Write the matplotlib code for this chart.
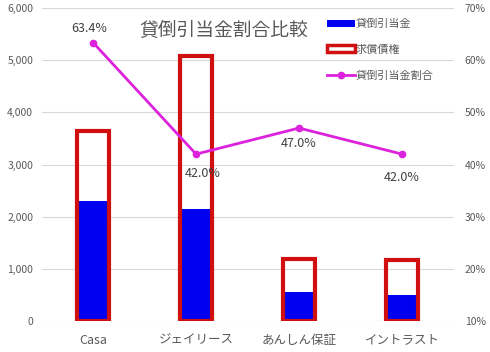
import numpy as np
import matplotlib.pyplot as plt
from matplotlib.patches import Patch
from matplotlib.lines import Line2D

plt.rcParams['font.family'] = ['Noto Sans CJK JP', 'DejaVu Sans']

categories = ['Casa', 'ジェイリース', 'あんしん保証', 'イントラスト']
allowance = [2300, 2150, 556, 500]       # 貸倒引当金
receivables = [3640, 5080, 1180, 1170]   # 求償債権
ratio = [63.4, 42.0, 47.0, 42.0]         # 貸倒引当金割合 (%)

label_offsets = [(-3, 10), (5, -14), (0, -11), (0, -17)]

gray = '#595959'
blue = '#0000F0'
red = '#D01010'
magenta = '#DD22DD'

fig = plt.figure(figsize=(4.9, 3.52), dpi=100)
ax = fig.add_axes([0.0847, 0.088, 0.841, 0.889])
x = np.arange(len(categories))
w = 0.31

ax.bar(x, allowance, width=w, color=blue, zorder=2)
ax.bar(x, receivables, width=w, facecolor='none', edgecolor=red,
       linewidth=3, zorder=3)

ax.set_xlim(-0.5, len(categories) - 0.5)
ax.set_ylim(0, 6000)
ax.set_yticks(range(0, 6001, 1000))
ax.set_yticklabels([f'{v:,}' for v in range(0, 6001, 1000)])
ax.set_xticks(x)
ax.set_xticklabels(categories)
ax.grid(axis='y', color='#D9D9D9', linewidth=0.8, zorder=0)
ax.set_axisbelow(True)
ax.tick_params(length=0, labelsize=7.5, colors=gray, pad=6)
ax.tick_params(axis='x', labelsize=9, pad=9)
for s in ax.spines.values():
    s.set_visible(False)

ax2 = ax.twinx()
ax2.plot(x, ratio, color=magenta, linewidth=2, marker='o', markersize=4.5,
         zorder=5)
ax2.set_ylim(10, 70)
ax2.set_yticks(range(10, 71, 10))
ax2.set_yticklabels([f'{v}%' for v in range(10, 71, 10)])
ax2.tick_params(length=0, labelsize=7.5, colors=gray, pad=8)
for s in ax2.spines.values():
    s.set_visible(False)

for xi, r, off in zip(x, ratio, label_offsets):
    ax2.annotate(f'{r:.1f}%', (xi, r), xytext=off, textcoords='offset points',
                 ha='center', va='center', fontsize=9, color='#404040')

ax2.text(0.443, 0.93, '貸倒引当金割合比較', transform=ax2.transAxes,
         ha='center', va='center', fontsize=13.5, color=gray)

handles = [
    Patch(facecolor=blue, edgecolor='none'),
    Patch(facecolor='white', edgecolor=red, linewidth=2.5),
    Line2D([0], [0], color=magenta, linewidth=2, marker='o', markersize=4.5),
]
labels = ['貸倒引当金', '求償債権', '貸倒引当金割合']
ax2.legend(handles, labels, loc='upper left', bbox_to_anchor=(0.668, 0.998),
           frameon=False, fontsize=8, labelspacing=1.4, handlelength=2.5,
           handleheight=0.6, handletextpad=0.1, labelcolor=gray)

fig.savefig('out.png', dpi=100)
